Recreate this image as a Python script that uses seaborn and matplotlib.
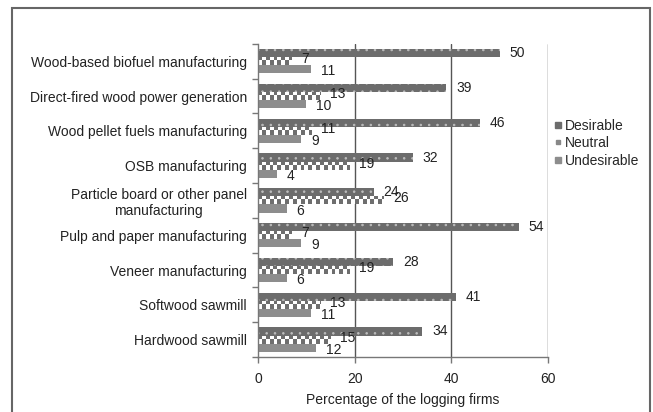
import numpy as np
import pandas as pd
import matplotlib
matplotlib.use("Agg")
import matplotlib.pyplot as plt
from matplotlib.patches import Rectangle
from matplotlib.lines import Line2D
from matplotlib.colors import ListedColormap
import seaborn as sns

categories = [
    "Wood-based biofuel manufacturing",
    "Direct-fired wood power generation",
    "Wood pellet fuels manufacturing",
    "OSB manufacturing",
    "Particle board or other panel\nmanufacturing",
    "Pulp and paper manufacturing",
    "Veneer manufacturing",
    "Softwood sawmill",
    "Hardwood sawmill",
]
desirable = [50, 39, 46, 32, 24, 54, 28, 41, 34]
neutral = [7, 13, 11, 19, 26, 7, 19, 13, 15]
undesirable = [11, 10, 9, 4, 6, 9, 6, 11, 12]
series = ["Desirable", "Neutral", "Undesirable"]
x_ticks = [0, 20, 40, 60]

df = pd.DataFrame({
    "category": categories * 3,
    "response": np.repeat(series, len(categories)),
    "value": desirable + neutral + undesirable,
})

sns.set_theme(style="white")
plt.rcParams["font.family"] = ["Liberation Sans", "DejaVu Sans"]
plt.rcParams["hatch.linewidth"] = 0.6

fig = plt.figure(figsize=(6.53, 4.12), dpi=100)
ax = fig.add_axes([0.395, 0.1335, 0.444, 0.76])

colors = {"Desirable": "#6c6c6c", "Neutral": "#ffffff", "Undesirable": "#8d8d8d"}
sns.barplot(data=df, y="category", x="value", hue="response", hue_order=series,
            order=categories, orient="h", palette=colors, width=0.7,
            ax=ax, legend=False, linewidth=0, zorder=2)

cont_d, cont_n, cont_u = ax.containers

# dotted fill for the Desirable series
for p in cont_d:
    p.set_hatch("..")
    p.set_edgecolor("#bdbdbd")
    p.set_linewidth(0)

# checkerboard fill for the Neutral series, clipped to each bar
checker_w = 0.8
checker_cmap = ListedColormap(["#6e6e6e", "#ffffff"])
for p in cont_n:
    x0, y0 = p.get_x(), p.get_y()
    w, h = p.get_width(), p.get_height()
    ncol = max(1, int(np.ceil(w / checker_w)))
    grid = (np.indices((2, ncol)).sum(axis=0) % 2).astype(float)
    im = ax.imshow(grid, cmap=checker_cmap, vmin=0, vmax=1,
                   extent=(x0, x0 + ncol * checker_w, y0 + h, y0),
                   aspect="auto", interpolation="nearest", zorder=2.5)
    im.set_clip_path(p)
    p.set_facecolor("none")

ax.set_xlim(0, 60)
ax.set_ylim(len(categories) - 0.5, -0.5)

# value labels
for cont, vals, dy in [(cont_d, desirable, 0), (cont_n, neutral, -1.5), (cont_u, undesirable, 1.5)]:
    for p, v in zip(cont, vals):
        ax.annotate(f"{v}", (p.get_width(), p.get_y() + p.get_height() / 2),
                    xytext=(7, -dy), textcoords="offset points",
                    ha="left", va="center", fontsize=10, color="#222222", zorder=4)

# axes styling
ax.set_xticks(x_ticks)
ax.grid(False)
for x in x_ticks[1:]:
    ax.axvline(x, color="#555555", lw=1.0, zorder=0)
for s in ["top", "right"]:
    ax.spines[s].set_visible(False)
for s in ["left", "bottom"]:
    ax.spines[s].set_color("#777777")
    ax.spines[s].set_linewidth(1.0)
ax.tick_params(axis="x", which="major", length=4, width=1, color="#777777",
               direction="out", bottom=True, labelsize=10, pad=7, labelcolor="#222222")
ax.tick_params(axis="y", which="major", length=0, pad=8, labelsize=10, labelcolor="#222222")
ax.set_yticks(np.arange(len(categories) + 1) - 0.5, minor=True)
ax.tick_params(axis="y", which="minor", length=4, width=1, color="#777777",
               direction="out", left=True)
for lbl in ax.get_yticklabels():
    lbl.set_multialignment("center")
ax.set_ylabel("")
ax.set_xlabel("Percentage of the logging firms", fontsize=10, color="#222222", labelpad=5)

# legend
handles = [
    Line2D([], [], marker="s", ls="none", markersize=5, color="#6c6c6c"),
    Line2D([], [], marker="s", ls="none", markersize=3.5, color="#888888"),
    Line2D([], [], marker="s", ls="none", markersize=5, color="#8d8d8d"),
]
fig.legend(handles, series, loc="upper left", bbox_to_anchor=(0.84, 0.725),
           frameon=False, fontsize=10, handlelength=0.6, handletextpad=0.2,
           labelspacing=0.25, borderaxespad=0)

# outer frame
fig.add_artist(Rectangle((12 / 653, -0.05), (650 - 12) / 653, 1 - 8 / 412 + 0.05,
                         transform=fig.transFigure, fill=False,
                         edgecolor="#666666", lw=1.5))

fig.savefig("out.png", dpi=100)
